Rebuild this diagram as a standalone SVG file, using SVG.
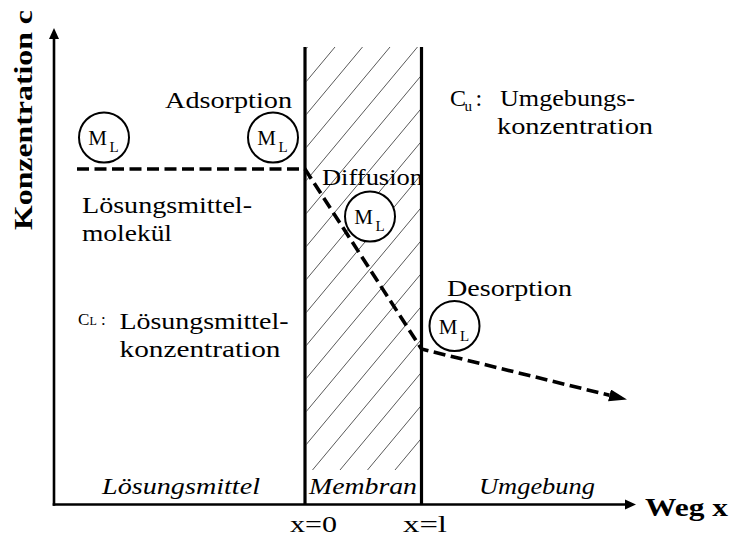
<svg xmlns="http://www.w3.org/2000/svg" width="730" height="537" viewBox="0 0 730 537">
<style>
  .t { font-family: "Liberation Serif", "Times New Roman", "DejaVu Serif", serif; font-size: 24px; fill: #000; }
  .it { font-style: italic; }
  .b { font-weight: bold; }
  .m { font-family: "Liberation Serif", "Times New Roman", "DejaVu Serif", serif; font-size: 21px; fill: #000; }
  .sub { font-size: 15px; }
  .axis { stroke: #000; stroke-width: 2.6; fill: none; }
  .wall { stroke: #000; stroke-width: 3.2; fill: none; }
  .hatch { stroke: #222; stroke-width: 0.75; fill: none; }
  .mol { stroke: #000; stroke-width: 2; fill: #fff; }
  .conc { stroke: #000; stroke-width: 3.6; fill: none; stroke-dasharray: 12 5.5; stroke-linejoin: miter; }
</style>
<defs>
  <clipPath id="membClip"><rect x="306.5" y="47" width="113.5" height="423"/></clipPath>
  <marker id="headBig" markerUnits="userSpaceOnUse" markerWidth="20" markerHeight="14" refX="0" refY="6" orient="auto">
    <path d="M0,0 L18,6 L0,12 z" fill="#000"/>
  </marker>
</defs>

<g id="axes">
  <line class="axis" x1="54" y1="505.8" x2="54" y2="37"/>
  <path d="M54,28 L59,39 L49,39 z" fill="#000"/>
  <line class="axis" x1="52.7" y1="504.5" x2="626" y2="504.5"/>
  <path d="M636,504.5 L625,499.5 L625,509.5 z" fill="#000"/>
  <text class="t b" style="font-size:26px" transform="translate(32,230) rotate(-90)" textLength="220" lengthAdjust="spacingAndGlyphs">Konzentration c</text>
  <text class="t b" style="font-size:25px" x="645" y="516" textLength="83" lengthAdjust="spacingAndGlyphs">Weg x</text>
  <text class="t" style="font-size:23px" x="290" y="532" textLength="47" lengthAdjust="spacingAndGlyphs">x=0</text>
  <text class="t" style="font-size:23px" x="403" y="532" textLength="44" lengthAdjust="spacingAndGlyphs">x=l</text>
</g>

<g id="membrane">
  <g clip-path="url(#membClip)">
    <path class="hatch" d="M307.5,47 l-352.5,423 M335,47 l-352.5,423 M362.5,47 l-352.5,423 M390,47 l-352.5,423 M417.5,47 l-352.5,423 M445,47 l-352.5,423 M472.5,47 l-352.5,423 M500,47 l-352.5,423 M527.5,47 l-352.5,423 M555,47 l-352.5,423 M582.5,47 l-352.5,423 M610,47 l-352.5,423 M637.5,47 l-352.5,423 M665,47 l-352.5,423 M692.5,47 l-352.5,423 M720,47 l-352.5,423 M747.5,47 l-352.5,423 M775,47 l-352.5,423"/>
  </g>
  <line class="wall" x1="305" y1="47" x2="305" y2="504"/>
  <line class="wall" x1="421.5" y1="47" x2="421.5" y2="504"/>
</g>

<g id="region-labels">
  <text class="t it" x="102" y="494" textLength="158" lengthAdjust="spacingAndGlyphs">Lösungsmittel</text>
  <text class="t it" x="309" y="494" textLength="108" lengthAdjust="spacingAndGlyphs">Membran</text>
  <text class="t it" x="479" y="494" textLength="116" lengthAdjust="spacingAndGlyphs">Umgebung</text>
</g>

<g id="connectors">
  <path class="conc" d="M77,169 L305,169 L421.5,349 L609.5,395.3" marker-end="url(#headBig)"/>
</g>

<g id="molecule-1">
  <circle class="mol" cx="104" cy="137.5" r="25"/>
  <text class="m" x="88.3" y="145"><tspan>M</tspan><tspan class="sub" x="109.5" y="152">L</tspan></text>
</g>
<g id="molecule-2">
  <circle class="mol" cx="273" cy="137.5" r="25"/>
  <text class="m" x="257.3" y="145"><tspan>M</tspan><tspan class="sub" x="278.5" y="152">L</tspan></text>
</g>
<g id="molecule-3">
  <circle class="mol" cx="370" cy="216.5" r="25"/>
  <text class="m" x="354.3" y="224"><tspan>M</tspan><tspan class="sub" x="375.5" y="231">L</tspan></text>
</g>
<g id="molecule-4">
  <circle class="mol" cx="454.5" cy="326" r="25"/>
  <text class="m" x="438.8" y="333.5"><tspan>M</tspan><tspan class="sub" x="460" y="340.5">L</tspan></text>
</g>

<g id="process-labels">
  <text class="t" x="165" y="108" textLength="127" lengthAdjust="spacingAndGlyphs">Adsorption</text>
  <text class="t" x="322" y="185" textLength="101" lengthAdjust="spacingAndGlyphs">Diffusion</text>
  <text class="t" x="447" y="296" textLength="125" lengthAdjust="spacingAndGlyphs">Desorption</text>
</g>

<g id="molecule-label">
  <text class="t" x="82" y="213" textLength="170" lengthAdjust="spacingAndGlyphs">Lösungsmittel-</text>
  <text class="t" x="82" y="241" textLength="90" lengthAdjust="spacingAndGlyphs">molekül</text>
</g>

<g id="cl-label">
  <text class="t" style="font-size:17px" x="78" y="325"><tspan>C</tspan><tspan x="89.5" style="font-size:12px">L</tspan><tspan x="101">:</tspan></text>
  <text class="t" x="119.5" y="329" textLength="169" lengthAdjust="spacingAndGlyphs">Lösungsmittel-</text>
  <text class="t" x="119.5" y="357" textLength="161" lengthAdjust="spacingAndGlyphs">konzentration</text>
</g>

<g id="cu-label">
  <text class="t" x="450" y="106"><tspan>C</tspan><tspan x="464.5" y="111" style="font-size:15px">u</tspan><tspan x="475.5" y="106">:</tspan></text>
  <text class="t" x="500" y="106" textLength="135" lengthAdjust="spacingAndGlyphs">Umgebungs-</text>
  <text class="t" x="497" y="134" textLength="156" lengthAdjust="spacingAndGlyphs">konzentration</text>
</g>
</svg>
